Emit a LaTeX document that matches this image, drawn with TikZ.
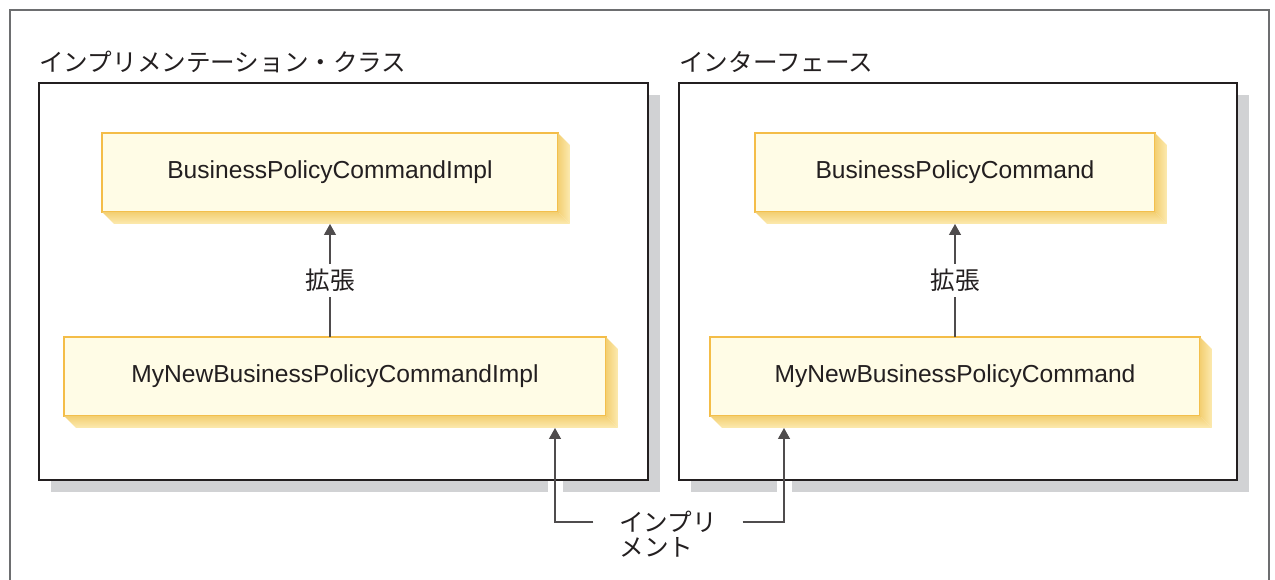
\documentclass[tikz,border=0pt]{standalone}
\usepackage{fontspec}
\setmainfont{Liberation Sans}
\newfontfamily\jfont{Noto Sans CJK JP}
\usetikzlibrary{arrows.meta,positioning,calc,backgrounds}

\definecolor{boxfill}{HTML}{FFFCE6}
\definecolor{boxline}{HTML}{F4BD48}
\definecolor{depthdark}{HTML}{F3CF72}
\definecolor{depthlight}{HTML}{FCEAB0}
\definecolor{panelshade}{HTML}{D1D2D4}
\definecolor{ink}{HTML}{231F20}
\definecolor{frameline}{HTML}{6D6E70}

% yellow 3D edge below and right of a class box
\newcommand\boxdepth[1]{%
  \shade[left color=depthdark, right color=depthlight]
    (#1.north east) -- ++(12,12) -- ($(#1.south east)+(12,12)$) -- (#1.south east) -- cycle;
  \shade[top color=depthdark, bottom color=depthlight]
    (#1.south west) -- (#1.south east) -- ++(12,12) -- ($(#1.south west)+(12,12)$) -- cycle;}

\begin{document}
\begin{tikzpicture}[
  x=0.02cm, y=-0.02cm,
  font=\fontsize{14}{14}\selectfont, text=ink,
  panel/.style={rectangle, draw=ink, line width=0.7pt, fill=white,
                inner sep=0pt, outer sep=0pt, minimum height=7.94cm},
  cls/.style={rectangle, draw=boxline, line width=1pt, fill=boxfill,
              inner sep=0pt, outer sep=0pt, minimum height=1.58cm},
  jp/.style={font=\jfont\fontsize{14}{14}\selectfont},
  ar/.style={-{Triangle[length=2.2mm,width=2.4mm]}, draw=ink!80, line width=0.7pt},
  gap/.style={draw=white, line width=0.3cm}
]
\clip (0,0) rectangle (1275,580);
\useasboundingbox (0,0) rectangle (1275,580);
\draw[frameline, line width=0.9pt] (10,10) rectangle (1269,600);

% panels
\node[panel, minimum width=12.18cm] (lpanel) at (343.5,281.5) {};
\node[panel, minimum width=11.16cm] (rpanel) at (958,281.5) {};
\node[jp, anchor=west, inner sep=0pt] (ltitle) at (39,62) {インプリメンテーション・クラス};
\node[jp, anchor=west, inner sep=0pt] (rtitle) at (679,62) {インターフェース};

% classes
\node[cls, minimum width=9.12cm] (bpi) at (330,172.5) {BusinessPolicyCommandImpl};
\node[cls, minimum width=10.84cm] (mbpi) at (335,376.5) {MyNewBusinessPolicyCommandImpl};
\node[cls, minimum width=8cm] (bp) at (955,172.5) {BusinessPolicyCommand};
\node[cls, minimum width=9.8cm] (mbp) at (955,376.5) {MyNewBusinessPolicyCommand};
\foreach \n in {bpi,mbpi,bp,mbp} {\boxdepth{\n}}

% extends
\draw[ar] (mbpi.north -| bpi.south) --
  node[jp, fill=white, inner xsep=1pt, inner ysep=0.1cm] (lext) {拡張} ($(bpi.south)+(0,12)$);
\draw[ar] (mbp.north -| bp.south) --
  node[jp, fill=white, inner xsep=1pt, inner ysep=0.1cm] (rext) {拡張} ($(bp.south)+(0,12)$);

% implements
\node[jp, inner xsep=0.51cm, inner ysep=0pt] (impl) at (668,522) {インプリ};
\node[jp, anchor=base west, inner sep=0pt] (implb) at ([yshift=-0.5cm]impl.text) {メント};
\coordinate (ltip) at ($(mbpi.south)+(220,12)$);
\coordinate (rtip) at ($(mbp.south)+(-171,12)$);
\draw[ar] (impl.west) -| (ltip);
\draw[ar] (impl.east) -| (rtip);

\begin{scope}[on background layer]
  \foreach \p in {lpanel,rpanel}
    \fill[panelshade] ($(\p.south west)+(12,12)$) rectangle ($(\p.north east)+(12,12)$);
  \draw[gap] (impl.west) -| (ltip);
  \draw[gap] (impl.east) -| (rtip);
\end{scope}
\end{tikzpicture}
\end{document}
